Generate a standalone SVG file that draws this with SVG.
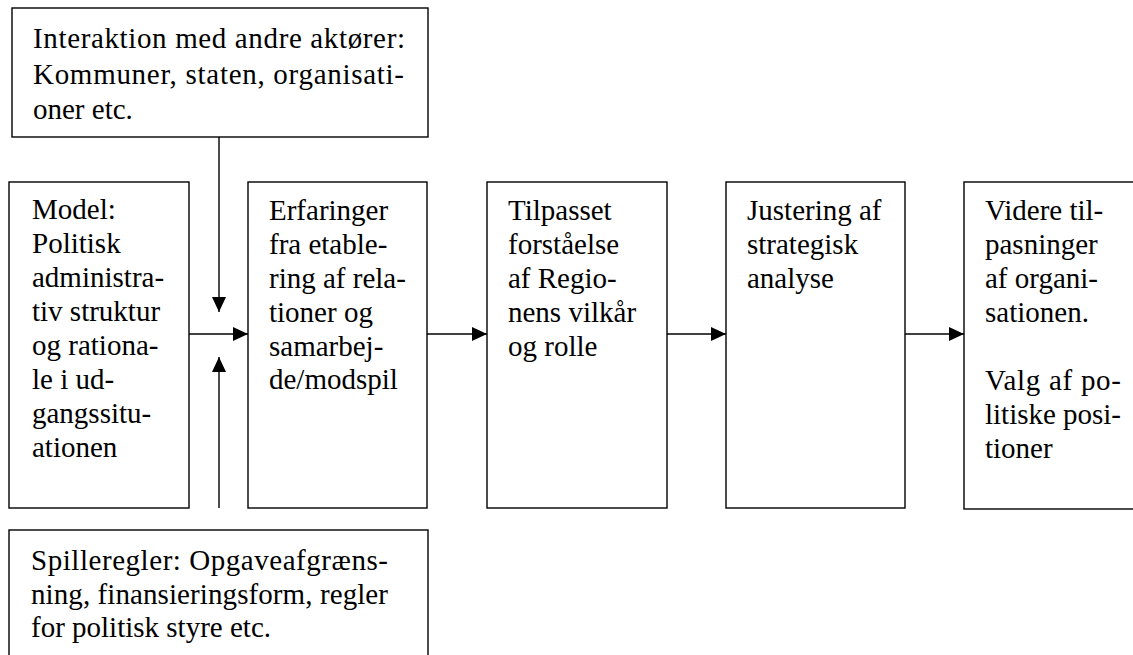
<svg xmlns="http://www.w3.org/2000/svg" width="1133" height="655" viewBox="0 0 1133 655">
<style>
.box{fill:#fff;stroke:#000;stroke-width:1.4}
.t{font-family:"Liberation Serif","Times New Roman",serif;font-size:29px;fill:#000}
.c{fill:none;stroke:#000;stroke-width:1.4}
</style>
<defs>
<marker id="ah" markerUnits="userSpaceOnUse" markerWidth="16" markerHeight="14" refX="15" refY="7" orient="auto">
<path d="M0,0 L15,7 L0,14 z" fill="#000"/>
</marker>
</defs>
<rect width="1133" height="655" fill="#fff"/>
<g id="connectors">
<line class="c" x1="219" y1="137" x2="219" y2="312" marker-end="url(#ah)"/>
<line class="c" x1="219" y1="508" x2="219" y2="357" marker-end="url(#ah)"/>
<line class="c" x1="189" y1="334" x2="248" y2="334" marker-end="url(#ah)"/>
<line class="c" x1="427" y1="334" x2="487" y2="334" marker-end="url(#ah)"/>
<line class="c" x1="667" y1="334" x2="726" y2="334" marker-end="url(#ah)"/>
<line class="c" x1="905" y1="334" x2="964" y2="334" marker-end="url(#ah)"/>
</g>
<g id="interaktion">
<rect class="box" x="12" y="8" width="416" height="129"/>
<text class="t"><tspan x="33" y="48" textLength="372" lengthAdjust="spacing">Interaktion med andre aktører:</tspan><tspan x="33" y="84" textLength="371" lengthAdjust="spacing">Kommuner, staten, organisati-</tspan><tspan x="33" y="119">oner etc.</tspan></text>
</g>
<g id="model">
<rect class="box" x="9" y="182" width="180" height="326"/>
<text class="t"><tspan x="32" y="219">Model:</tspan><tspan x="32" y="253">Politisk</tspan><tspan x="32" y="287">administra-</tspan><tspan x="32" y="321">tiv struktur</tspan><tspan x="32" y="355">og rationa-</tspan><tspan x="32" y="389">le i ud-</tspan><tspan x="32" y="423">gangssitu-</tspan><tspan x="32" y="457">ationen</tspan></text>
</g>
<g id="erfaringer">
<rect class="box" x="248" y="182" width="179" height="326"/>
<text class="t"><tspan x="269" y="220">Erfaringer</tspan><tspan x="269" y="254">fra etable-</tspan><tspan x="269" y="288">ring af rela-</tspan><tspan x="269" y="322">tioner og</tspan><tspan x="269" y="356">samarbej-</tspan><tspan x="269" y="389">de/modspil</tspan></text>
</g>
<g id="tilpasset">
<rect class="box" x="487" y="182" width="180" height="326"/>
<text class="t"><tspan x="508" y="220">Tilpasset</tspan><tspan x="508" y="254">forståelse</tspan><tspan x="508" y="288">af Regio-</tspan><tspan x="508" y="322">nens vilkår</tspan><tspan x="508" y="356">og rolle</tspan></text>
</g>
<g id="justering">
<rect class="box" x="726" y="182" width="179" height="326"/>
<text class="t"><tspan x="747" y="220">Justering af</tspan><tspan x="747" y="254">strategisk</tspan><tspan x="747" y="288">analyse</tspan></text>
</g>
<g id="videre">
<rect class="box" x="964" y="182" width="180" height="327"/>
<text class="t"><tspan x="985" y="220">Videre til-</tspan><tspan x="985" y="254">pasninger</tspan><tspan x="985" y="288">af organi-</tspan><tspan x="985" y="322">sationen.</tspan><tspan x="985" y="390" textLength="136" lengthAdjust="spacing">Valg af po-</tspan><tspan x="985" y="424" textLength="136" lengthAdjust="spacing">litiske posi-</tspan><tspan x="985" y="458">tioner</tspan></text>
</g>
<g id="spilleregler">
<rect class="box" x="9" y="530" width="419" height="140"/>
<text class="t"><tspan x="31" y="570" textLength="357" lengthAdjust="spacing">Spilleregler: Opgaveafgræns-</tspan><tspan x="31" y="604" textLength="357" lengthAdjust="spacing">ning, finansieringsform, regler</tspan><tspan x="31" y="637">for politisk styre etc.</tspan></text>
</g>
</svg>
